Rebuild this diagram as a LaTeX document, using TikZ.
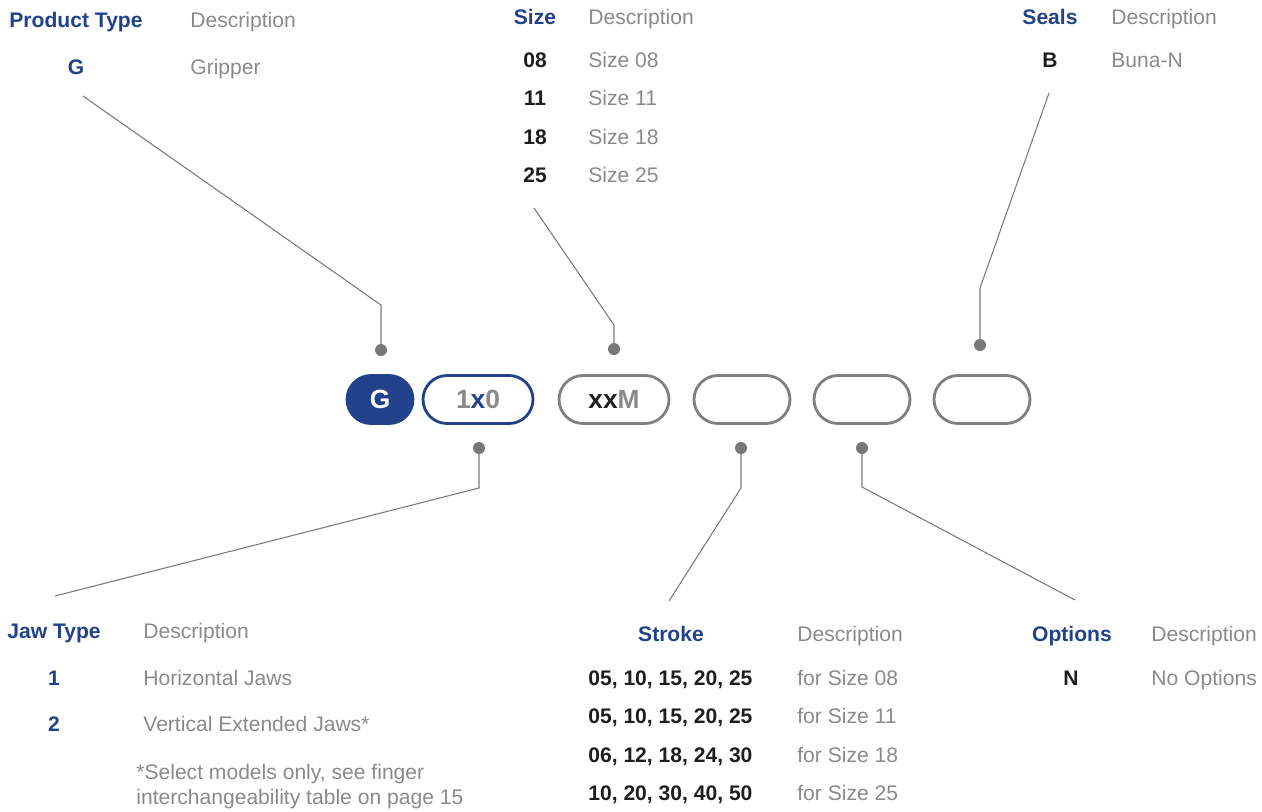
\documentclass[tikz,border=0pt]{standalone}
\usepackage{fontspec}
\setmainfont{Liberation Sans}
\definecolor{brandblue}{RGB}{33,66,139}
\definecolor{txtgray}{RGB}{138,138,138}
\definecolor{pillgray}{RGB}{128,128,128}
\definecolor{linegray}{RGB}{120,120,120}
\definecolor{darktext}{RGB}{30,30,30}
\tikzset{
  head/.style={font=\bfseries\fontsize{12}{14}\selectfont, text=brandblue, anchor=base, inner sep=0pt},
  desc/.style={font=\fontsize{12}{14}\selectfont, text=txtgray, anchor=base west, inner sep=0pt},
  code/.style={font=\bfseries\fontsize{12}{14}\selectfont, text=darktext, anchor=base, inner sep=0pt},
  bluecode/.style={code, text=brandblue},
  pill/.style={draw=pillgray, line width=1.6pt, rounded corners=0.48cm, minimum height=0.96cm,
    minimum width=1.92cm, inner sep=0pt, font=\bfseries\fontsize{15}{18}\selectfont, text=txtgray},
  dot/.style={circle, fill=linegray, minimum size=0.24cm, inner sep=0pt},
  lead/.style={draw=linegray, line width=0.6pt}
}
\begin{document}
\begin{tikzpicture}[x=0.02cm, y=-0.02cm]
  \useasboundingbox (0,0) rectangle (1262,812);
  % part number pills
  \node[pill, draw=brandblue, fill=brandblue, text=white, minimum width=1.32cm] (pG) at (380,399.5) {G};
  \node[pill, draw=brandblue, minimum width=2.2cm] (pJaw) at (478,399.5) {1{\color{brandblue}x}0};
  \node[pill, minimum width=2.2cm] (pSize) at (614,399.5) {{\color{darktext}xx}M};
  \node[pill] (pStroke) at (742,399.5) {};
  \node[pill] (pOpt) at (862,399.5) {};
  \node[pill] (pSeal) at (982,399.5) {};
  % dots
  \node[dot] (gDot) at (381,350) {};
  \node[dot] (sizeDot) at (614,349) {};
  \node[dot] (sealDot) at (980,345) {};
  \node[dot] (jawDot) at (479,448) {};
  \node[dot] (strokeDot) at (741,448) {};
  \node[dot] (optDot) at (862,448) {};
  % lead lines
  \coordinate (gBend) at (381,305);
  \coordinate (gEnd) at (83,96);
  \coordinate (sizeBend) at (614,325);
  \coordinate (sizeEnd) at (534,208);
  \coordinate (sealBend) at (980,288);
  \coordinate (sealEnd) at (1049,93);
  \coordinate (jawBend) at (479,488);
  \coordinate (jawEnd) at (55,596);
  \coordinate (strokeBend) at (741,488);
  \coordinate (strokeEnd) at (669,601);
  \coordinate (optBend) at (862,487);
  \coordinate (optEnd) at (1075,600);
  \draw[lead] (gDot.center) -- (gBend) -- (gEnd);
  \draw[lead] (sizeDot.center) -- (sizeBend) -- (sizeEnd);
  \draw[lead] (sealDot.center) -- (sealBend) -- (sealEnd);
  \draw[lead] (jawDot.center) -- (jawBend) -- (jawEnd);
  \draw[lead] (strokeDot.center) -- (strokeBend) -- (strokeEnd);
  \draw[lead] (optDot.center) -- (optBend) -- (optEnd);
  % product type
  \node[head] (ptHead) at (76,27) {Product Type};
  \node[desc] (ptDesc) at (190,27) {Description};
  \node[bluecode] (ptG) at (76,74) {G};
  \node[desc] (ptGd) at (190,74) {Gripper};
  % size
  \node[head] (szHead) at (535,24) {Size};
  \node[desc] (szDesc) at (588,24) {Description};
  \foreach \s/\y in {08/67, 11/105, 18/144, 25/182} {
    \node[code] (sz\s) at (535,\y) {\s};
    \node[desc] (szd\s) at (588,\y) {Size \s};
  }
  % seals
  \node[head] (slHead) at (1050,24) {Seals};
  \node[desc] (slDesc) at (1111,24) {Description};
  \node[code] (slB) at (1050,67) {B};
  \node[desc] (slBd) at (1111,67) {Buna-N};
  % jaw type
  \node[head] (jwHead) at (54,638) {Jaw Type};
  \node[desc] (jwDesc) at (143,638) {Description};
  \node[bluecode] (jw1) at (54,685) {1};
  \node[desc] (jw1d) at (143,685) {Horizontal Jaws};
  \node[bluecode] (jw2) at (54,731) {2};
  \node[desc] (jw2d) at (143,731) {Vertical Extended Jaws*};
  \node[desc] (jwNote1) at (136,779) {*Select models only, see finger};
  \node[desc] (jwNote2) at (136,804) {interchangeability table on page 15};
  % stroke
  \node[head] (stHead) at (671,641) {Stroke};
  \node[desc] (stDesc) at (797,641) {Description};
  \foreach \v/\s/\y in {{05, 10, 15, 20, 25}/08/685, {05, 10, 15, 20, 25}/11/723,
                        {06, 12, 18, 24, 30}/18/762, {10, 20, 30, 40, 50}/25/800} {
    \node[code, anchor=base west] (st\s) at (588,\y) {\v};
    \node[desc] (std\s) at (797,\y) {for Size \s};
  }
  % options
  \node[head] (opHead) at (1072,641) {Options};
  \node[desc] (opDesc) at (1151,641) {Description};
  \node[code] (opN) at (1071,685) {N};
  \node[desc] (opNd) at (1151,685) {No Options};
\end{tikzpicture}
\end{document}
